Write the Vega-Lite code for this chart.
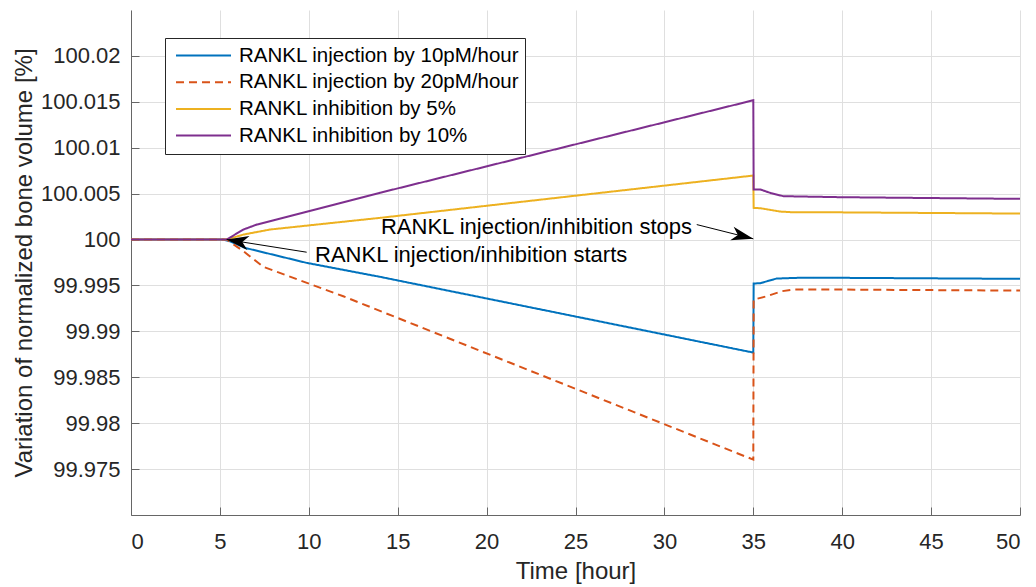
{
  "$schema": "https://vega.github.io/schema/vega-lite/v6.json",
  "width": 889,
  "height": 505,
  "autosize": {"type": "none"},
  "padding": {"left": 131, "top": 10, "right": 16, "bottom": 72},
  "background": "white",
  "config": {
    "view": {"stroke": null},
    "font": "Liberation Sans",
    "axis": {
      "domainColor": "#666666",
      "domainWidth": 1,
      "tickColor": "#666666",
      "tickSize": -8,
      "gridColor": "#dfdfdf",
      "gridWidth": 1,
      "labelColor": "#262626",
      "labelFontSize": 22,
      "titleColor": "#262626",
      "titleFontSize": 24,
      "titleFontWeight": "normal"
    }
  },
  "datasets": {
    "curves": [
      {"t": 0, "v": 100, "s": "RANKL injection by 10pM/hour"},
      {"t": 5.2, "v": 100, "s": "RANKL injection by 10pM/hour"},
      {"t": 5.57, "v": 99.99981, "s": "RANKL injection by 10pM/hour"},
      {"t": 6.4, "v": 99.9991, "s": "RANKL injection by 10pM/hour"},
      {"t": 9.88, "v": 99.99746, "s": "RANKL injection by 10pM/hour"},
      {"t": 14, "v": 99.99594, "s": "RANKL injection by 10pM/hour"},
      {"t": 35, "v": 99.98769, "s": "RANKL injection by 10pM/hour"},
      {"t": 35.02, "v": 99.99521, "s": "RANKL injection by 10pM/hour"},
      {"t": 35.4, "v": 99.99525, "s": "RANKL injection by 10pM/hour"},
      {"t": 36.3, "v": 99.99575, "s": "RANKL injection by 10pM/hour"},
      {"t": 37.5, "v": 99.99583, "s": "RANKL injection by 10pM/hour"},
      {"t": 40, "v": 99.99583, "s": "RANKL injection by 10pM/hour"},
      {"t": 50, "v": 99.99572, "s": "RANKL injection by 10pM/hour"},

      {"t": 0, "v": 100, "s": "RANKL injection by 20pM/hour"},
      {"t": 5.38, "v": 100, "s": "RANKL injection by 20pM/hour"},
      {"t": 6.32, "v": 99.99873, "s": "RANKL injection by 20pM/hour"},
      {"t": 7.44, "v": 99.99703, "s": "RANKL injection by 20pM/hour"},
      {"t": 11.94, "v": 99.99382, "s": "RANKL injection by 20pM/hour"},
      {"t": 35, "v": 99.97603, "s": "RANKL injection by 20pM/hour"},
      {"t": 35.02, "v": 99.99346, "s": "RANKL injection by 20pM/hour"},
      {"t": 35.75, "v": 99.99382, "s": "RANKL injection by 20pM/hour"},
      {"t": 36.6, "v": 99.99437, "s": "RANKL injection by 20pM/hour"},
      {"t": 37.2, "v": 99.99455, "s": "RANKL injection by 20pM/hour"},
      {"t": 40, "v": 99.99455, "s": "RANKL injection by 20pM/hour"},
      {"t": 50, "v": 99.99444, "s": "RANKL injection by 20pM/hour"},

      {"t": 0, "v": 100, "s": "RANKL inhibition by 5%"},
      {"t": 5.38, "v": 100, "s": "RANKL inhibition by 5%"},
      {"t": 6.32, "v": 100.00054, "s": "RANKL inhibition by 5%"},
      {"t": 7.81, "v": 100.00109, "s": "RANKL inhibition by 5%"},
      {"t": 14, "v": 100.00236, "s": "RANKL inhibition by 5%"},
      {"t": 35, "v": 100.00697, "s": "RANKL inhibition by 5%"},
      {"t": 35.02, "v": 100.00345, "s": "RANKL inhibition by 5%"},
      {"t": 35.4, "v": 100.00341, "s": "RANKL inhibition by 5%"},
      {"t": 36.5, "v": 100.00305, "s": "RANKL inhibition by 5%"},
      {"t": 37.2, "v": 100.00297, "s": "RANKL inhibition by 5%"},
      {"t": 40, "v": 100.00296, "s": "RANKL inhibition by 5%"},
      {"t": 50, "v": 100.00283, "s": "RANKL inhibition by 5%"},

      {"t": 0, "v": 100, "s": "RANKL inhibition by 10%"},
      {"t": 5.38, "v": 100, "s": "RANKL inhibition by 10%"},
      {"t": 6.32, "v": 100.00109, "s": "RANKL inhibition by 10%"},
      {"t": 7.07, "v": 100.00163, "s": "RANKL inhibition by 10%"},
      {"t": 14, "v": 100.00509, "s": "RANKL inhibition by 10%"},
      {"t": 35, "v": 100.01517, "s": "RANKL inhibition by 10%"},
      {"t": 35.02, "v": 100.00545, "s": "RANKL inhibition by 10%"},
      {"t": 35.4, "v": 100.00545, "s": "RANKL inhibition by 10%"},
      {"t": 36, "v": 100.00505, "s": "RANKL inhibition by 10%"},
      {"t": 36.7, "v": 100.00472, "s": "RANKL inhibition by 10%"},
      {"t": 40, "v": 100.00461, "s": "RANKL inhibition by 10%"},
      {"t": 50, "v": 100.00443, "s": "RANKL inhibition by 10%"}
    ],
    "arrows": [
      {"x": 9.88, "y": 99.99862, "x2": 5.38, "y2": 100.0},
      {"x": 31.82, "y": 100.00163, "x2": 35.0, "y2": 100.00008}
    ],
    "labels": [
      {"x": 10.35, "y": 99.99837, "label": "RANKL injection/inhibition starts"},
      {"x": 14.06, "y": 100.00142, "label": "RANKL injection/inhibition stops"}
    ]
  },
  "layer": [
    {
      "data": {"name": "curves"},
      "mark": {"type": "line", "strokeWidth": 2},
      "encoding": {
        "x": {
          "field": "t", "type": "quantitative",
          "scale": {"domain": [0, 50], "nice": false},
          "axis": {"title": "Time [hour]", "values": [0,5,10,15,20,25,30,35,40,45,50], "labelPadding": 24, "titlePadding": 7.5}
        },
        "y": {
          "field": "v", "type": "quantitative",
          "scale": {"domain": [99.97, 100.025], "nice": false, "zero": false},
          "axis": {"title": "Variation of normalized bone volume [%]", "values": [99.975, 99.98, 99.985, 99.99, 99.995, 100, 100.005, 100.01, 100.015, 100.02], "format": ".6~g", "labelPadding": 19, "titlePadding": 4}
        },
        "color": {
          "field": "s", "type": "nominal",
          "scale": {
            "domain": ["RANKL injection by 10pM/hour", "RANKL injection by 20pM/hour", "RANKL inhibition by 5%", "RANKL inhibition by 10%"],
            "range": ["#0072BD", "#D95319", "#EDB120", "#7E2F8E"]
          },
          "legend": {
            "title": null, "orient": "none", "legendX": 34, "legendY": 28,
            "symbolType": "stroke", "symbolSize": 3025, "symbolStrokeWidth": 2,
            "labelFontSize": 20.5, "labelColor": "#000000", "labelLimit": 500,
            "strokeColor": "#262626", "fillColor": "white", "padding": 5,
            "symbolOffset": 5, "rowPadding": 1.7, "labelOffset": 7, "clipHeight": 25
          }
        },
        "strokeDash": {
          "field": "s", "type": "nominal",
          "scale": {
            "domain": ["RANKL injection by 10pM/hour", "RANKL injection by 20pM/hour", "RANKL inhibition by 5%", "RANKL inhibition by 10%"],
            "range": [[1, 0], [8, 5], [1, 0], [1, 0]]
          },
          "legend": {
            "title": null, "orient": "none", "legendX": 34, "legendY": 28,
            "symbolType": "stroke", "symbolSize": 3025, "symbolStrokeWidth": 2,
            "labelFontSize": 20.5, "labelColor": "#000000", "labelLimit": 500,
            "strokeColor": "#262626", "fillColor": "white", "padding": 5,
            "symbolOffset": 5, "rowPadding": 1.7, "labelOffset": 7, "clipHeight": 25
          }
        }
      }
    },
    {
      "data": {"name": "arrows"},
      "mark": {"type": "rule", "color": "black", "strokeWidth": 1},
      "encoding": {
        "x": {"field": "x", "type": "quantitative"},
        "y": {"field": "y", "type": "quantitative"},
        "x2": {"field": "x2"},
        "y2": {"field": "y2"}
      }
    },
    {
      "data": {"name": "arrows"},
      "transform": [{"filter": "datum.x < 20"}],
      "mark": {"type": "point", "shape": "M0,0 L-1,-0.32 L-0.72,0 L-1,0.32 Z", "filled": true, "color": "black", "opacity": 1, "size": 1936, "angle": 189},
      "encoding": {
        "x": {"field": "x2", "type": "quantitative"},
        "y": {"field": "y2", "type": "quantitative"}
      }
    },
    {
      "data": {"name": "arrows"},
      "transform": [{"filter": "datum.x > 20"}],
      "mark": {"type": "point", "shape": "M0,0 L-1,-0.32 L-0.72,0 L-1,0.32 Z", "filled": true, "color": "black", "opacity": 1, "size": 1936, "angle": 14},
      "encoding": {
        "x": {"field": "x2", "type": "quantitative"},
        "y": {"field": "y2", "type": "quantitative"}
      }
    },
    {
      "data": {"name": "labels"},
      "mark": {"type": "text", "align": "left", "baseline": "middle", "fontSize": 22, "color": "black"},
      "encoding": {
        "x": {"field": "x", "type": "quantitative"},
        "y": {"field": "y", "type": "quantitative"},
        "text": {"field": "label"}
      }
    }
  ]
}
